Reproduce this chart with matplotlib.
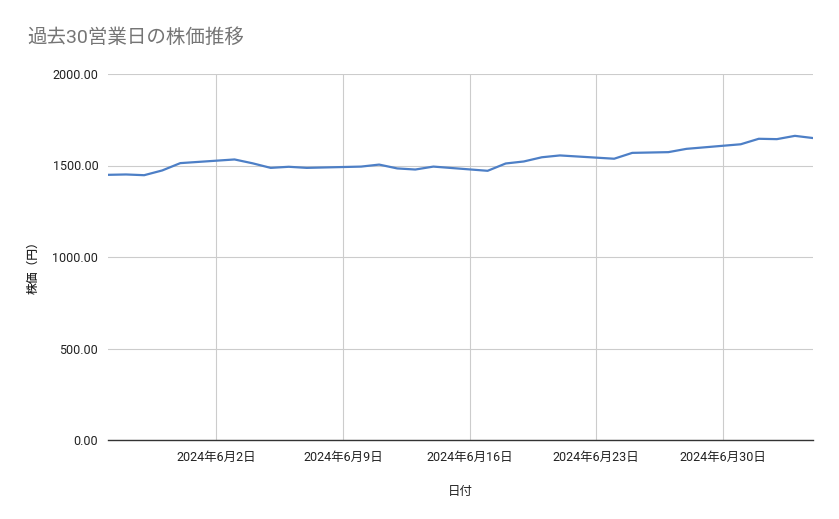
import matplotlib
matplotlib.use("Agg")
import matplotlib.pyplot as plt
import numpy as np
import pandas as pd

plt.rcParams['font.family'] = ['Roboto', 'Noto Sans CJK JP', 'DejaVu Sans']

# 過去30営業日 (2024/5/27 - 2024/7/5)
dates = pd.bdate_range("2024-05-27", "2024-07-05")
prices = [1449, 1451, 1447, 1473, 1513,
          1533, 1512, 1487, 1493, 1487,
          1494, 1505, 1484, 1478, 1494,
          1471, 1511, 1522, 1545, 1555,
          1537, 1569, 1571, 1573, 1591,
          1616, 1646, 1644, 1662, 1650]

tick_dates = pd.date_range("2024-06-02", "2024-06-30", freq="7D")
tick_labels = [f"{d.year}年{d.month}月{d.day}日" for d in tick_dates]
y_ticks = [0, 500, 1000, 1500, 2000]

fig = plt.figure(figsize=(8.39, 5.19), dpi=100)
ax = fig.add_axes([108/839, 79/519, 705/839, 366/519])

ax.plot(dates, prices, color="#4d7fc6", linewidth=1.6)

ax.set_xlim(pd.Timestamp("2024-05-27"), pd.Timestamp("2024-07-05"))
ax.set_ylim(0, 2000)
ax.set_xticks(tick_dates)
ax.set_xticklabels(tick_labels)
ax.set_yticks(y_ticks)
ax.set_yticklabels([f"{v:.2f}" for v in y_ticks])

ax.grid(True, color="#cccccc", linewidth=0.8)
ax.set_axisbelow(True)
for s in ["top", "right", "left"]:
    ax.spines[s].set_visible(False)
ax.spines["bottom"].set_color("#333333")
ax.spines["bottom"].set_linewidth(1.0)
ax.tick_params(axis="both", length=0, labelsize=9, colors="#222222")
ax.tick_params(axis="x", pad=8)
ax.tick_params(axis="y", pad=7)

ax.set_xlabel("日付", fontsize=9, color="#222222")
ax.set_ylabel("株価（円）", fontsize=8.5, color="#222222", fontweight="medium")
ax.xaxis.set_label_coords(0.5, -0.123)
ax.yaxis.set_label_coords(-0.097, 0.48)

fig.text(27/839, 1 - 38/519, "過去30営業日の株価推移", fontsize=14, color="#757575",
         va="center", ha="left")

fig.savefig("out.png", dpi=100)
